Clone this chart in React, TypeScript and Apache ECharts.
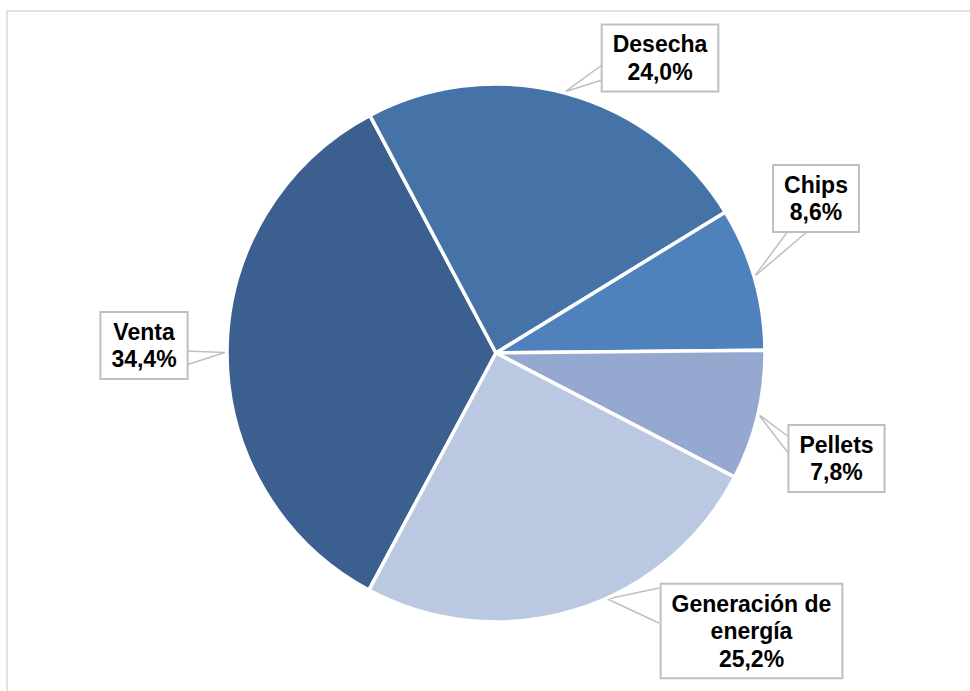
import React, { useEffect, useRef } from 'react';
import * as echarts from 'echarts';

// ---- data ----
const CATEGORIES = ['Venta', 'Desecha', 'Chips', 'Pellets', 'Generación de energía'];
const LABEL_TEXTS = ['Venta', 'Desecha', 'Chips', 'Pellets', 'Generación de\nenergía'];
const VALUES = [34.4, 24.0, 8.6, 7.8, 25.2];

// ---- styles ----
const COLORS = ['#3B5F8F', '#4572A7', '#4F81BD', '#95A9D0', '#BAC8E1'];

// label box centres and callout base points (layout only)
const LABEL_BOX = [
  { cx: 144, cy: 345.5, a: [186, 351], b: [186, 365], tipShift: [-2, 0] },
  { cx: 660, cy: 58, a: [602, 65], b: [602, 80], tipShift: [-1, -2] },
  { cx: 816, cy: 198.5, a: [788, 231], b: [808, 231], tipShift: [0, -2] },
  { cx: 836.5, cy: 458.5, a: [789, 437], b: [789, 454], tipShift: [1, -1] },
  { cx: 751.5, cy: 631, a: [659, 588], b: [659, 623], tipShift: [32, -11] },
];

export default function App() {
  const ref = useRef<HTMLDivElement>(null);

  useEffect(() => {
    if (!ref.current) return;
    const chart = echarts.init(ref.current, undefined, { renderer: 'svg' });
    const data = CATEGORIES.map((name, i) => ({
      name,
      value: VALUES[i],
      itemStyle: { color: COLORS[i] },
    }));

    chart.setOption({
      animation: false,
      backgroundColor: '#ffffff',
      graphic: [
        {
          type: 'rect',
          shape: { x: 7, y: 11, width: 1200, height: 1200 },
          style: { fill: 'none', stroke: '#D9D9D9', lineWidth: 1.5 },
          silent: true,
          z: 0,
        },
      ],
      series: [
        {
          type: 'pie',
          center: [496, 353],
          radius: 269,
          startAngle: 241.8,
          clockwise: true,
          avoidLabelOverlap: false,
          minShowLabelAngle: 0,
          itemStyle: { borderColor: '#ffffff', borderWidth: 3.5 },
          emphasis: { disabled: true },
          label: {
            show: true,
            position: 'outside',
            formatter: (p: any) =>
              LABEL_TEXTS[p.dataIndex] + '\n' + Number(p.value).toFixed(1).replace('.', ',') + '%',
            color: '#000000',
            fontFamily: '"Liberation Sans", Arial, sans-serif',
            fontWeight: 'bold',
            fontSize: 23,
            lineHeight: 27.5,
            align: 'center',
            backgroundColor: '#ffffff',
            borderColor: '#BFBFBF',
            borderWidth: 2,
            padding: [5, 10],
          },
          labelLine: {
            show: true,
            length: 10,
            length2: 10,
            lineStyle: { color: '#BFBFBF', width: 1.5 },
          },
          labelLayout: (params: any) => {
            const L = LABEL_BOX[params.dataIndex];
            const pts = params.labelLinePoints;
            const tip = pts && pts[0]
              ? [pts[0][0] + L.tipShift[0], pts[0][1] + L.tipShift[1]]
              : L.a;
            return {
              x: L.cx,
              y: L.cy,
              align: 'center',
              verticalAlign: 'middle',
              labelLinePoints: [L.a, tip, L.b],
            };
          },
          data,
        },
      ],
    });

    return () => chart.dispose();
  }, []);

  return (
    <div
      ref={ref}
      style={{ position: 'absolute', left: 0, top: 0, width: 970, height: 691 }}
    />
  );
}
